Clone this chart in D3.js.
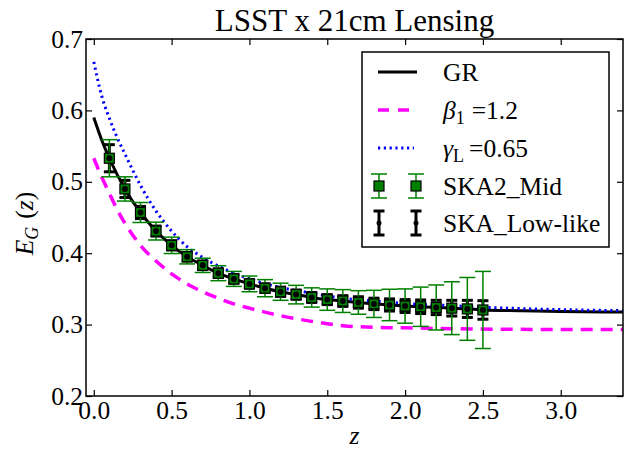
<!DOCTYPE html>
<html><head><meta charset="utf-8">
<script src="https://cdn.jsdelivr.net/npm/d3@7"></script>
<style>
body{margin:0;background:#fff}
text{font-family:"Liberation Serif","Times New Roman",serif;fill:#000}
</style>
</head><body>
<svg id="c" width="627" height="452"></svg>
<script>
// ---- data ----
const xTicks = [0, 0.5, 1.0, 1.5, 2.0, 2.5, 3.0];
const yTicks = [0.2, 0.3, 0.4, 0.5, 0.6, 0.7];

const grZ = [0, 0.05, 0.1, 0.2, 0.3, 0.4, 0.5, 0.6, 0.7, 0.8, 0.9, 1.0, 1.1, 1.2, 1.3, 1.4, 1.5, 1.6, 1.7, 1.8, 1.9, 2.0, 2.1, 2.2, 2.3, 2.4, 2.5, 2.75, 3.0, 3.4];
const grE = [0.590, 0.559, 0.533, 0.490, 0.457, 0.431, 0.411, 0.395, 0.383, 0.372, 0.364, 0.357, 0.351, 0.346, 0.342, 0.338, 0.335, 0.333, 0.331, 0.329, 0.3275, 0.326, 0.325, 0.324, 0.323, 0.322, 0.3205, 0.3195, 0.3185, 0.3175];

const betaZ = [0, 0.05, 0.1, 0.15, 0.2, 0.3, 0.4, 0.5, 0.6, 0.7, 0.8, 0.9, 1.0, 1.2, 1.4, 1.6, 1.8, 2.0, 2.3, 2.6, 3.0, 3.4];
const betaE = [0.533, 0.507, 0.484, 0.461, 0.442, 0.411, 0.389, 0.371, 0.357, 0.346, 0.337, 0.329, 0.323, 0.3125, 0.3045, 0.2985, 0.2962, 0.2955, 0.2942, 0.2935, 0.2932, 0.293];

const gammaZ = [0, 0.05, 0.1, 0.15, 0.2, 0.3, 0.4, 0.5, 0.6, 0.7, 0.8, 0.9, 1.0, 1.2, 1.4, 1.6, 1.8, 2.0, 2.3, 2.6, 3.0, 3.4];
const gammaE = [0.668, 0.621, 0.589, 0.562, 0.539, 0.495, 0.459, 0.431, 0.409, 0.394, 0.382, 0.372, 0.364, 0.352, 0.344, 0.337, 0.333, 0.3295, 0.3265, 0.3235, 0.321, 0.3195];

const ptZ = [0.1, 0.2, 0.3, 0.4, 0.5, 0.6, 0.7, 0.8, 0.9, 1.0, 1.1, 1.2, 1.3, 1.4, 1.5, 1.6, 1.7, 1.8, 1.9, 2.0, 2.1, 2.2, 2.3, 2.4, 2.5];
const ptE = [0.533, 0.490, 0.457, 0.431, 0.411, 0.395, 0.383, 0.372, 0.364, 0.357, 0.351, 0.346, 0.342, 0.338, 0.335, 0.333, 0.331, 0.329, 0.3275, 0.326, 0.325, 0.324, 0.323, 0.322, 0.3205];
const midErr = [0.026, 0.017, 0.014, 0.0125, 0.0115, 0.010, 0.010, 0.0105, 0.0105, 0.011, 0.012, 0.012, 0.013, 0.0135, 0.015, 0.016, 0.0165, 0.019, 0.022, 0.024, 0.0275, 0.0315, 0.037, 0.044, 0.054];
const lowErr = [0.019, 0.012, 0.0085, 0.007, 0.0065, 0.006, 0.006, 0.006, 0.006, 0.006, 0.006, 0.0065, 0.0065, 0.007, 0.007, 0.0075, 0.008, 0.008, 0.0085, 0.009, 0.0095, 0.010, 0.011, 0.012, 0.013];

// ---- layout ----
const M = {l: 86, t: 39, r: 623, b: 396};
const svg = d3.select("#c");
const x = d3.scaleLinear().domain([-0.05, 3.4]).range([M.l, M.r]);
const y = d3.scaleLinear().domain([0.2, 0.7]).range([M.b, M.t]);

svg.append("defs").append("clipPath").attr("id", "clip")
  .append("rect").attr("x", M.l).attr("y", M.t).attr("width", M.r - M.l).attr("height", M.b - M.t);

const plot = svg.append("g").attr("clip-path", "url(#clip)");

const line = d3.line().x(d => x(d[0])).y(d => y(d[1])).curve(d3.curveMonotoneX);

// GR
plot.append("path").datum(grZ.map((z, i) => [z, grE[i]]))
  .attr("d", line).attr("fill", "none").attr("stroke", "#000").attr("stroke-width", 3);
// beta
plot.append("path").datum(betaZ.map((z, i) => [z, betaE[i]]))
  .attr("d", line).attr("fill", "none").attr("stroke", "#ff00ff").attr("stroke-width", 3.5)
  .attr("stroke-dasharray", "12,8");
// gamma
plot.append("path").datum(gammaZ.map((z, i) => [z, gammaE[i]]))
  .attr("d", line).attr("fill", "none").attr("stroke", "#0000ff").attr("stroke-width", 3)
  .attr("stroke-dasharray", "2.2,3.6");

// error bars
function lowBar(g, cx, yt, yb) {
  g.append("line").attr("x1", cx).attr("x2", cx).attr("y1", yt).attr("y2", yb)
    .attr("stroke", "#000").attr("stroke-width", 3);
  [yt, yb].forEach(yy => g.append("line").attr("x1", cx - 5.5).attr("x2", cx + 5.5)
    .attr("y1", yy).attr("y2", yy).attr("stroke", "#000").attr("stroke-width", 3));
}
function midBar(g, cx, yt, yb) {
  g.append("line").attr("x1", cx).attr("x2", cx).attr("y1", yt).attr("y2", yb)
    .attr("stroke", "#008000").attr("stroke-width", 1.5);
  [yt, yb].forEach(yy => g.append("line").attr("x1", cx - 8).attr("x2", cx + 8)
    .attr("y1", yy).attr("y2", yy).attr("stroke", "#008000").attr("stroke-width", 1.5));
}
function midSq(g, cx, cy) {
  g.append("rect").attr("x", cx - 5).attr("y", cy - 5).attr("width", 10).attr("height", 10)
    .attr("fill", "#008000").attr("stroke", "#000").attr("stroke-width", 1.2);
}
function lowDot(g, cx, cy, r) {
  g.append("circle").attr("cx", cx).attr("cy", cy).attr("r", r).attr("fill", "#000");
}

const pts = svg.append("g");
ptZ.forEach((z, i) => lowBar(pts, x(z), y(ptE[i] + lowErr[i]), y(ptE[i] - lowErr[i])));
ptZ.forEach((z, i) => midBar(pts, x(z), y(ptE[i] + midErr[i]), y(ptE[i] - midErr[i])));
ptZ.forEach((z, i) => midSq(pts, x(z), y(ptE[i])));
ptZ.forEach((z, i) => lowDot(pts, x(z), y(ptE[i]), 3));

// ---- axes ----
const fmt = d3.format(".1f");
const axB = svg.append("g").attr("transform", `translate(0,${M.b})`)
  .call(d3.axisBottom(x).tickValues(xTicks).tickSize(-6).tickPadding(5).tickFormat(fmt));
const axT = svg.append("g").attr("transform", `translate(0,${M.t})`)
  .call(d3.axisTop(x).tickValues(xTicks).tickSize(-6).tickFormat(""));
const axL = svg.append("g").attr("transform", `translate(${M.l},0)`)
  .call(d3.axisLeft(y).tickValues(yTicks).tickSize(-6).tickPadding(3).tickFormat(fmt));
const axR = svg.append("g").attr("transform", `translate(${M.r},0)`)
  .call(d3.axisRight(y).tickValues(yTicks).tickSize(-6).tickFormat(""));
[axB, axT, axL, axR].forEach(a => {
  a.select(".domain").remove();
  a.selectAll(".tick line").attr("stroke", "#000").attr("stroke-width", 1.2);
  a.selectAll("text").attr("font-family", "Liberation Serif").attr("font-size", 25.5).attr("fill", "#000");
});
svg.append("rect").attr("x", M.l).attr("y", M.t).attr("width", M.r - M.l).attr("height", M.b - M.t)
  .attr("fill", "none").attr("stroke", "#000").attr("stroke-width", 1.5);

// title
svg.append("text").attr("x", (M.l + M.r) / 2).attr("y", 31).attr("text-anchor", "middle")
  .attr("font-size", 31).text("LSST x 21cm Lensing");

// x label
svg.append("text").attr("x", (M.l + M.r) / 2).attr("y", 444).attr("text-anchor", "middle")
  .attr("font-size", 25.5).attr("font-style", "italic").text("z");

// y label
const yl = svg.append("text").attr("transform", `translate(33,${(M.t + M.b) / 2 + 6}) rotate(-90)`)
  .attr("text-anchor", "middle").attr("font-size", 25.5);
yl.append("tspan").attr("font-style", "italic").text("E");
yl.append("tspan").attr("font-style", "italic").attr("font-size", 18).attr("dy", 5).text("G");
yl.append("tspan").attr("dy", -5).attr("dx", 8).text("(");
yl.append("tspan").attr("font-style", "italic").text("z");
yl.append("tspan").text(")");

// ---- legend ----
const L = svg.append("g");
L.append("rect").attr("x", 362).attr("y", 52).attr("width", 247).attr("height", 195)
  .attr("fill", "#fff").attr("stroke", "#000").attr("stroke-width", 1.5);
const rows = [72, 110, 148, 186, 223];
const hx1 = 378, hx2 = 417, tx = 443;
L.append("line").attr("x1", hx1).attr("x2", hx2).attr("y1", rows[0]).attr("y2", rows[0])
  .attr("stroke", "#000").attr("stroke-width", 3);
L.append("line").attr("x1", hx1).attr("x2", hx2).attr("y1", rows[1]).attr("y2", rows[1])
  .attr("stroke", "#ff00ff").attr("stroke-width", 3.5).attr("stroke-dasharray", "11,9");
L.append("line").attr("x1", hx1).attr("x2", hx2 - 3).attr("y1", rows[2]).attr("y2", rows[2])
  .attr("stroke", "#0000ff").attr("stroke-width", 3).attr("stroke-dasharray", "2.2,3.6");
[hx1 + 1, hx2 - 1].forEach(cx => {
  midBar(L, cx, rows[3] - 12, rows[3] + 12);
  midSq(L, cx, rows[3]);
  lowBar(L, cx, rows[4] - 12, rows[4] + 12);
  lowDot(L, cx, rows[4], 2.5);
});
const lt = (i) => L.append("text").attr("x", tx).attr("y", rows[i] + 9).attr("font-size", 25.5);
lt(0).text("GR");
const b = lt(1);
b.append("tspan").attr("font-style", "italic").text("β");
b.append("tspan").attr("font-size", 18).attr("dy", 5).text("1");
b.append("tspan").attr("dy", -5).attr("dx", 7).text("=1.2");
const g = lt(2);
g.append("tspan").attr("font-style", "italic").text("γ");
g.append("tspan").attr("font-size", 18).attr("dy", 5).text("L");
g.append("tspan").attr("dy", -5).attr("dx", 5).text("=0.65");
lt(3).text("SKA2_Mid");
lt(4).text("SKA_Low-like");
</script>
</body></html>
